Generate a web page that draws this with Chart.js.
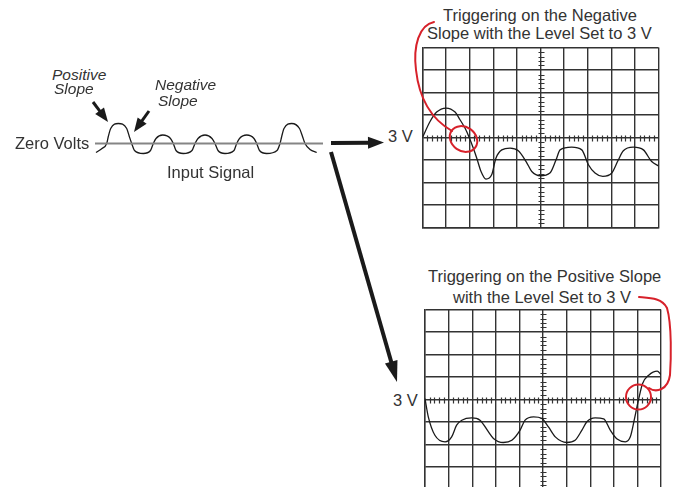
<!DOCTYPE html>
<html>
<head>
<meta charset="utf-8">
<script src="https://cdn.jsdelivr.net/npm/chart.js@4"></script>
<style>
  body { margin: 0; background: #fff; width: 673px; height: 487px; overflow: hidden; position: relative; }
  canvas { position: absolute; }
  .lbl { position: absolute; white-space: nowrap; font-family: "Liberation Sans", Arial, sans-serif; font-size: 16.5px; line-height: 20px; color: #333; }
  .it { font-style: italic; font-size: 15.5px; }
  svg { position: absolute; left: 0; top: 0; pointer-events: none; }
</style>
</head>
<body>

<canvas id="inputChart" width="240" height="60" style="left:90px;top:110px"></canvas>
<canvas id="negChart" width="241" height="185" style="left:420px;top:45px"></canvas>
<canvas id="posChart" width="242" height="185" style="left:422px;top:307px"></canvas>

<div class="lbl it" style="left:52px;top:65px">Positive</div>
<div class="lbl it" style="left:54px;top:79px">Slope</div>
<div class="lbl it" style="left:155px;top:75px">Negative</div>
<div class="lbl it" style="left:158px;top:91px">Slope</div>
<div class="lbl" style="left:15px;top:133px">Zero Volts</div>
<div class="lbl" style="left:167px;top:162px">Input Signal</div>

<div class="lbl" style="left:443px;top:5px">Triggering on the Negative</div>
<div class="lbl" style="left:427px;top:23px">Slope with the Level Set to 3 V</div>
<div class="lbl" style="left:388px;top:126px">3 V</div>

<div class="lbl" style="left:428px;top:266px">Triggering on the Positive Slope</div>
<div class="lbl" style="left:453px;top:287px">with the Level Set to 3 V</div>
<div class="lbl" style="left:393px;top:390px">3 V</div>

<svg id="notes" width="673" height="487"></svg>

<script>
// INPUT SIGNAL (time units, level units; 0 = zero volts)
const inputX = [6, 12, 16.7, 18.3, 20.7, 28.3, 36.7, 39.3, 41.7, 44.5, 53.3, 60.5, 63.3, 66, 72.7, 80.5, 83.3, 86, 93.3, 102, 105, 108, 115, 122, 125, 128, 135, 144, 146.7, 149.5, 156.7, 164, 166.7, 169.5, 176.7, 187, 190, 191.7, 194, 201.7, 209.5, 212.5, 215, 220, 226.7];
const inputY = [-9, -5, 0, 7, 15, 20, 15, 7, 0, -7, -10, -7, 0, 5, 8.5, 5, 0, -7, -10, -7, 0, 5, 8.5, 5, 0, -7, -10, -7, 0, 5, 8.5, 5, 0, -7, -10, -7, 0, 7, 15, 20, 15, 7, 0, -6, -9];
const zeroX = [5, 233];
const zeroY = [0, 0];

// SCOPE TRACES (x in divisions 0..10, y in divisions from the 3 V line)
const negX = [0, 0.32, 0.6, 1.0, 1.38, 1.59, 1.8, 1.98, 2.15, 2.3, 2.48, 2.69, 2.93, 3.11, 3.36, 3.71, 4.06, 4.39, 4.63, 5.0, 5.40, 5.66, 5.83, 6.32, 6.75, 7.03, 7.31, 7.64, 8.02, 8.30, 8.51, 8.93, 9.36, 9.71, 10];
const negY = [0, 0.71, 1.13, 1.31, 1.13, 0.79, 0.42, 0, -0.47, -0.92, -1.51, -1.85, -1.66, -0.92, -0.55, -0.47, -0.59, -1.07, -1.51, -1.70, -1.58, -0.99, -0.55, -0.43, -0.55, -1.21, -1.58, -1.73, -1.58, -0.99, -0.59, -0.43, -0.55, -1.07, -1.26];

const posX = [0, 0.14, 0.42, 0.85, 1.13, 1.34, 1.56, 1.98, 2.33, 2.69, 2.90, 3.32, 3.68, 4.03, 4.24, 4.60, 4.95, 5.23, 5.52, 6.01, 6.36, 6.65, 6.86, 7.21, 7.57, 7.85, 8.14, 8.49, 8.70, 8.88, 9.05, 9.22, 9.48, 9.84, 10];
const posY = [0.04, -0.77, -1.59, -1.88, -1.66, -1.14, -0.92, -0.82, -0.92, -1.44, -1.73, -1.91, -1.81, -1.36, -0.92, -0.77, -0.84, -1.22, -1.66, -1.91, -1.81, -1.36, -0.99, -0.82, -0.86, -1.36, -1.76, -1.88, -1.66, -0.84, 0, 0.71, 1.08, 1.26, 1.11];

const xDivs = [0, 10];
const yDivs = [-4, 4];

function pts(xs, ys) {
  return xs.map((x, i) => ({ x: x, y: ys[i] }));
}

const baseOpts = {
  responsive: false,
  animation: false,
  events: [],
  plugins: { legend: { display: false }, tooltip: { enabled: false } }
};

// input signal
new Chart(document.getElementById("inputChart"), {
  type: "line",
  data: {
    datasets: [
      { data: pts(zeroX, zeroY), borderColor: "#858585", borderWidth: 2, pointRadius: 0 },
      { data: pts(inputX, inputY), borderColor: "#1a1a1a", borderWidth: 1.3, pointRadius: 0, cubicInterpolationMode: "monotone" }
    ]
  },
  options: Object.assign({}, baseOpts, {
    layout: { padding: 0 },
    scales: {
      x: { type: "linear", display: false, min: 0, max: 240 },
      y: { type: "linear", display: false, min: -26.5, max: 33.5 }
    }
  })
});

// little ticks on the centre cross of each graticule
const centerTicks = {
  id: "centerTicks",
  beforeDatasetsDraw(chart) {
    const ctx = chart.ctx;
    const x = chart.scales.x, y = chart.scales.y;
    const cx = Math.round(x.getPixelForValue(5)) + 0.5;
    const cy = Math.round(y.getPixelForValue(0)) + 0.5;
    ctx.save();
    ctx.strokeStyle = "#333";
    ctx.lineWidth = 1.2;
    ctx.beginPath();
    for (let i = 0; i <= 50; i++) {
      if (i % 5 === 0) continue;
      const px = Math.round(x.getPixelForValue(i / 5)) + 0.5;
      ctx.moveTo(px, cy - 3);
      ctx.lineTo(px, cy + 3);
    }
    for (let j = -20; j <= 20; j++) {
      if (j % 5 === 0) continue;
      const py = Math.round(y.getPixelForValue(j / 5)) + 0.5;
      ctx.moveTo(cx - 3, py);
      ctx.lineTo(cx + 3, py);
    }
    ctx.stroke();
    ctx.restore();
  }
};

function scope(id, xs, ys, pad) {
  const axis = (lim) => ({
    type: "linear",
    min: lim[0],
    max: lim[1],
    ticks: { display: false, stepSize: 1 },
    grid: { color: "#333", lineWidth: 1.4, drawTicks: false },
    border: { color: "#333", width: 1.4 }
  });
  return new Chart(document.getElementById(id), {
    type: "line",
    data: {
      datasets: [
        { data: pts(xs, ys), borderColor: "#1a1a1a", borderWidth: 1.3, pointRadius: 0, cubicInterpolationMode: "monotone" }
      ]
    },
    options: Object.assign({}, baseOpts, {
      layout: { padding: pad },
      scales: { x: axis(xDivs), y: axis(yDivs) }
    }),
    plugins: [centerTicks]
  });
}

scope("negChart", negX, negY, { left: 2.5, right: 2.5, top: 2.5, bottom: 2.5 });
scope("posChart", posX, posY, { left: 3, right: 3, top: 2.5, bottom: 2.5 });

// ARROWS + RED NOTES
const svg = document.getElementById("notes");
const NS = "http://www.w3.org/2000/svg";

function el(name, attrs) {
  const e = document.createElementNS(NS, name);
  for (const k in attrs) e.setAttribute(k, attrs[k]);
  svg.appendChild(e);
  return e;
}

function arrow(x1, y1, x2, y2, w, hl, hw) {
  const len = Math.hypot(x2 - x1, y2 - y1);
  const ux = (x2 - x1) / len, uy = (y2 - y1) / len;
  const bx = x2 - ux * hl, by = y2 - uy * hl;
  el("line", { x1: x1, y1: y1, x2: bx + ux, y2: by + uy, stroke: "#1a1a1a", "stroke-width": w });
  const nx = -uy * hw / 2, ny = ux * hw / 2;
  el("polygon", { points: [x2, y2, bx + nx, by + ny, bx - nx, by - ny].join(","), fill: "#1a1a1a" });
}

arrow(93, 102, 108, 122, 3, 14, 11);
arrow(149, 111, 134, 132, 3, 14, 11);
arrow(331, 143, 384, 142.5, 4, 16, 12);
arrow(331, 152, 397, 382, 4, 21, 13);

const red = { fill: "none", stroke: "#d7212a", "stroke-width": 2, "stroke-linecap": "round" };
el("path", Object.assign({ d: "M434,22 C419,25 413,46 416,70 C419,97 431,119 452,131" }, red));
el("ellipse", Object.assign({ cx: 463.5, cy: 139, rx: 14.5, ry: 12, transform: "rotate(35 463.5 139)" }, red));
el("path", Object.assign({ d: "M639,297 C650,298 662,298 667,308 C672,325 671,360 670,375 C668,390 656,393 649,388" }, red));
el("ellipse", Object.assign({ cx: 638.5, cy: 397, rx: 12.5, ry: 12.5 }, red));
</script>
</body>
</html>
